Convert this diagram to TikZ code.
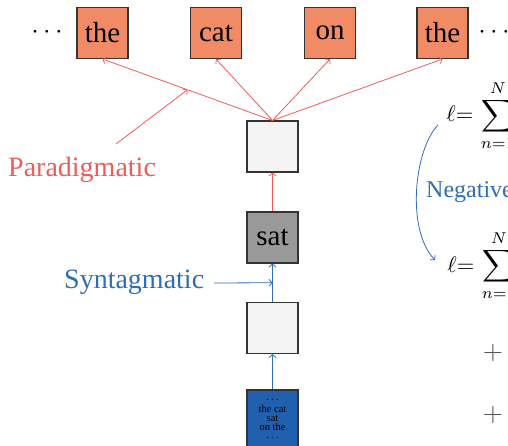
\documentclass[tikz,border=0pt]{standalone}
\usepackage{fontspec}
\setmainfont{Liberation Serif}
\usetikzlibrary{arrows.meta,calc}
\definecolor{wordfill}{HTML}{F08B66}
\definecolor{paracol}{HTML}{EE5B5B}
\definecolor{syncol}{HTML}{2F6DB5}
\definecolor{ctxfill}{HTML}{2160AF}
\definecolor{hidfill}{HTML}{F3F3F3}
\definecolor{satfill}{HTML}{999999}
\definecolor{plusgray}{HTML}{555555}

\begin{document}
\begin{tikzpicture}[x=1pt,y=-1pt,
  cell/.style={draw=black!80, line width=1.1pt, minimum width=51pt,
    minimum height=51pt, inner sep=0pt, font=\fontsize{29}{30}\selectfont},
  word/.style={cell, fill=wordfill},
  hidden/.style={cell, fill=hidfill},
  centre/.style={cell, fill=satfill},
  context/.style={cell, fill=ctxfill, minimum height=58pt, align=center,
    font=\fontsize{10.5}{9.3}\selectfont},
  tip/.style={-{Straight Barb[length=3pt,width=7pt]}},
  para/.style={draw=paracol, line width=0.8pt, tip},
  syn/.style={draw=syncol, line width=0.8pt, tip},
  lab/.style={font=\fontsize{28}{30}\selectfont, inner sep=0pt, anchor=base west},
  eq/.style={scale=2.25, inner sep=0pt, anchor=base west},
]
\useasboundingbox (0,0) rectangle (508,446);
\clip (0,0) rectangle (508,446);

% output words
\node[word] (w1) at (102.5,33) {the};
\node[word] (w2) at (216,33) {cat};
\node[word] (w3) at (330,33) {on};
\node[word] (w4) at (442.5,33) {the};
\node[scale=2.7, inner sep=0pt] (dl) at (47,33) {$\cdots$};
\node[scale=2.7, inner sep=0pt] (dr) at (494,33) {$\cdots$};

% central column
\node[hidden] (h1) at (272.5,146.5) {};
\node[centre] (sat) at (272.5,237.5) {sat};
\node[hidden] (h2) at (272.5,328) {};
\node[context] (ctx) at (272.5,419) {$\cdots$\\the cat\\sat\\on the\\$\cdots$};

% paradigmatic connections
\foreach \w in {w1,w2,w3,w4}
  \draw[para] (h1.north) -- (\w.south);
\draw[para] (sat.north) -- (h1.south);
\node[lab, text=paracol] (plab) at (8,177) {Paradigmatic};
\coordinate (pstart) at (116,144);
\draw[para] (pstart) -- ($(h1.north)!0.5!(w1.south)$);

% syntagmatic connections
\draw[syn] (ctx.north) -- (h2.south);
\draw[syn] (h2.north) -- (sat.south);
\node[lab, text=syncol] (slab) at (64,288) {Syntagmatic};
\coordinate (sstart) at (214,283);
\draw[syn] (sstart) -- ($(h2.north)!0.5!(sat.south)$);

% objectives
\node[eq] (e1) at (446,122) {$\displaystyle \ell{=}\,\sum_{n=1}^{N}$};
\node[eq] (e2) at (447,272) {$\displaystyle \ell{=}\,\sum_{n=1}^{N}$};
\node[lab, text=syncol, font=\fontsize{24}{26}\selectfont] (neg) at (426,198) {Negative};
\coordinate (c1) at (438,125);
\coordinate (c2) at (435,260);
\draw[syn] (c1) .. controls (414,150) and (406,230) .. (c2);
\node[scale=2.6, text=plusgray, inner sep=0pt] (p1) at (493,353) {$+$};
\node[scale=2.6, text=plusgray, inner sep=0pt] (p2) at (493,415) {$+$};
\end{tikzpicture}
\end{document}
